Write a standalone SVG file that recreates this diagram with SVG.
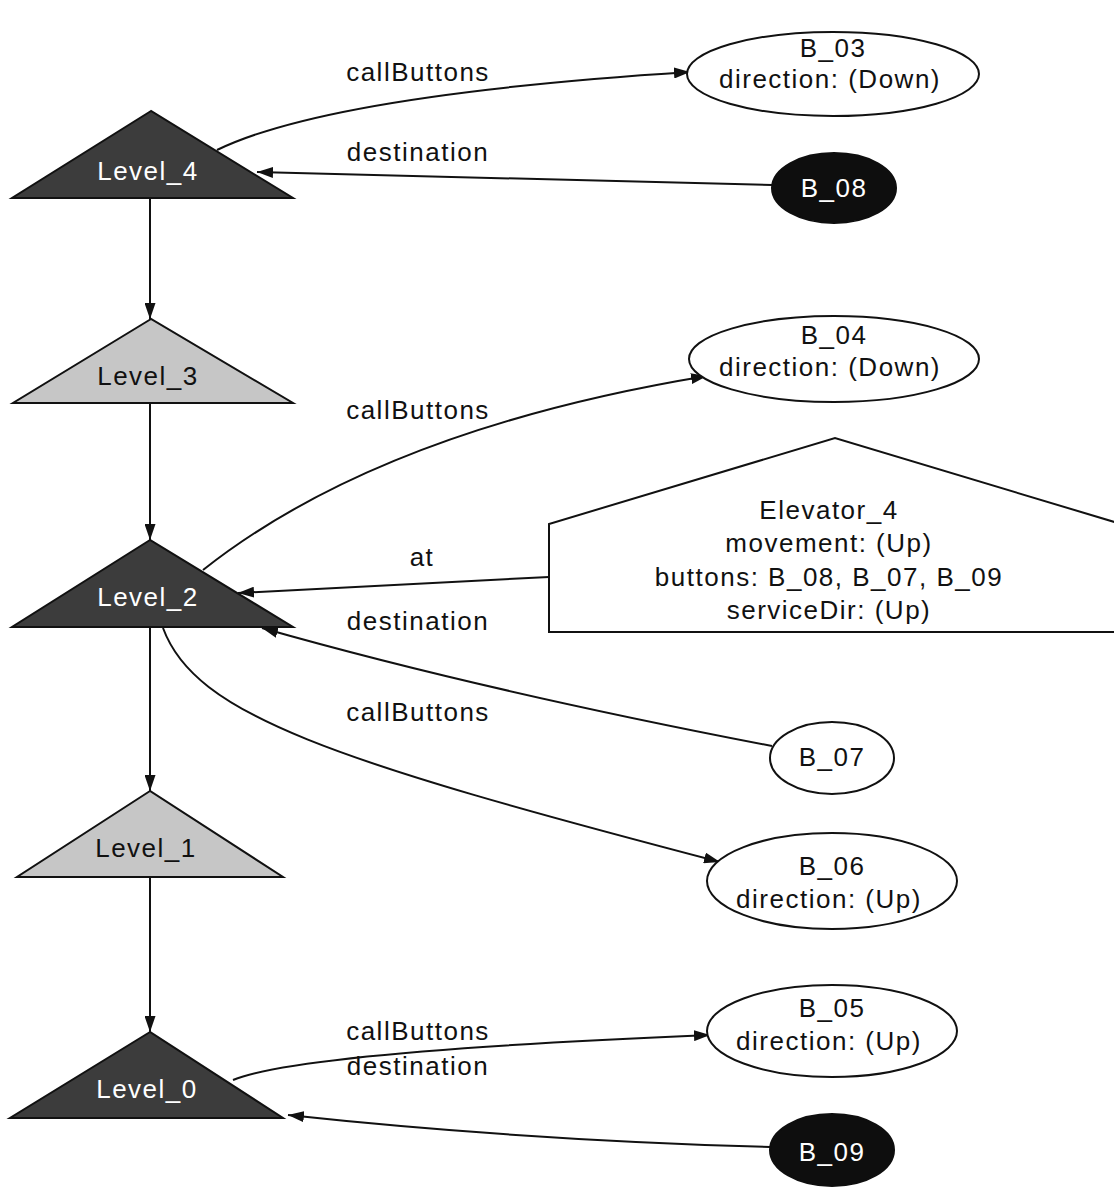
<svg xmlns="http://www.w3.org/2000/svg" width="1114" height="1187" viewBox="0 0 1114 1187">
  <style>
    text { font-family: "Liberation Sans", Arial, sans-serif; font-size: 26px; letter-spacing: 1.5px; text-anchor: middle; fill: #111; }
    .on-dark { fill: #fff; }
    .level-dark { fill: #3c3c3c; stroke: #111; stroke-width: 2; }
    .level-light { fill: #c6c6c6; stroke: #111; stroke-width: 2; }
    .btn { fill: #fff; stroke: #111; stroke-width: 2; }
    .btn-dark { fill: #0e0e0e; stroke: #0e0e0e; stroke-width: 2; }
    .elev { fill: #fff; stroke: #111; stroke-width: 2; }
    .edge { fill: none; stroke: #111; stroke-width: 2; marker-end: url(#arrow); }
  </style>
  <defs>
    <marker id="arrow" markerUnits="userSpaceOnUse" markerWidth="17" markerHeight="11" refX="16" refY="5.5" orient="auto">
      <path d="M0,0 L16,5.5 L0,11 Z" fill="#111"/>
    </marker>
  </defs>
  <rect width="1114" height="1187" fill="#fff"/>

  <!-- connectors -->
  <g id="edges">
    <path class="edge" d="M150,198 L150,319"/>
    <path class="edge" d="M150,403 L150,540"/>
    <path class="edge" d="M150,627 L150,791"/>
    <path class="edge" d="M150,877 L150,1032"/>
    <path class="edge" d="M217,150 Q330,95 690,72"/>
    <path class="edge" d="M772,185 L257,172"/>
    <path class="edge" d="M203,570 Q380,430 707,376"/>
    <path class="edge" d="M549,577 L238,593"/>
    <path class="edge" d="M772,746 Q480,690 262,628"/>
    <path class="edge" d="M163,628 C195,715 330,760 720,862"/>
    <path class="edge" d="M233,1080 Q300,1052 710,1035"/>
    <path class="edge" d="M770,1147 Q520,1140 288,1115"/>
    <text x="418" y="81">callButtons</text>
    <text x="418" y="161">destination</text>
    <text x="418" y="419">callButtons</text>
    <text x="422" y="566">at</text>
    <text x="418" y="630">destination</text>
    <text x="418" y="721">callButtons</text>
    <text x="418" y="1040">callButtons</text>
    <text x="418" y="1075">destination</text>
  </g>

  <!-- floor levels -->
  <g id="Level_4">
    <polygon class="level-dark" points="151,111 12,198 293,198"/>
    <text class="on-dark" x="148" y="180">Level_4</text>
  </g>
  <g id="Level_3">
    <polygon class="level-light" points="151,319 13,403 293,403"/>
    <text x="148" y="385">Level_3</text>
  </g>
  <g id="Level_2">
    <polygon class="level-dark" points="150,540 12,627 293,627"/>
    <text class="on-dark" x="148" y="606">Level_2</text>
  </g>
  <g id="Level_1">
    <polygon class="level-light" points="150,791 17,877 283,877"/>
    <text x="146" y="857">Level_1</text>
  </g>
  <g id="Level_0">
    <polygon class="level-dark" points="150,1032 10,1118 283,1118"/>
    <text class="on-dark" x="147" y="1098">Level_0</text>
  </g>

  <!-- buttons -->
  <g id="B_03">
    <ellipse class="btn" cx="833" cy="74" rx="146" ry="42"/>
    <text x="833" y="57">B_03</text>
    <text x="830" y="88">direction: (Down)</text>
  </g>
  <g id="B_08">
    <ellipse class="btn-dark" cx="834" cy="188" rx="62" ry="35"/>
    <text class="on-dark" x="834" y="197">B_08</text>
  </g>
  <g id="B_04">
    <ellipse class="btn" cx="834" cy="359" rx="145" ry="43"/>
    <text x="834" y="344">B_04</text>
    <text x="830" y="376">direction: (Down)</text>
  </g>
  <g id="B_07">
    <ellipse class="btn" cx="832" cy="758" rx="62" ry="36"/>
    <text x="832" y="766">B_07</text>
  </g>
  <g id="B_06">
    <ellipse class="btn" cx="832" cy="881" rx="125" ry="48"/>
    <text x="832" y="875">B_06</text>
    <text x="829" y="908">direction: (Up)</text>
  </g>
  <g id="B_05">
    <ellipse class="btn" cx="832" cy="1031" rx="125" ry="46"/>
    <text x="832" y="1017">B_05</text>
    <text x="829" y="1050">direction: (Up)</text>
  </g>
  <g id="B_09">
    <ellipse class="btn-dark" cx="832" cy="1150" rx="62" ry="36"/>
    <text class="on-dark" x="832" y="1161">B_09</text>
  </g>

  <!-- elevator -->
  <g id="Elevator_4">
    <polygon class="elev" points="549,632 549,524 835,438 1121,524 1121,632"/>
    <text x="829" y="519">Elevator_4</text>
    <text x="829" y="552">movement: (Up)</text>
    <text x="829" y="586">buttons: B_08, B_07, B_09</text>
    <text x="829" y="619">serviceDir: (Up)</text>
  </g>
</svg>
